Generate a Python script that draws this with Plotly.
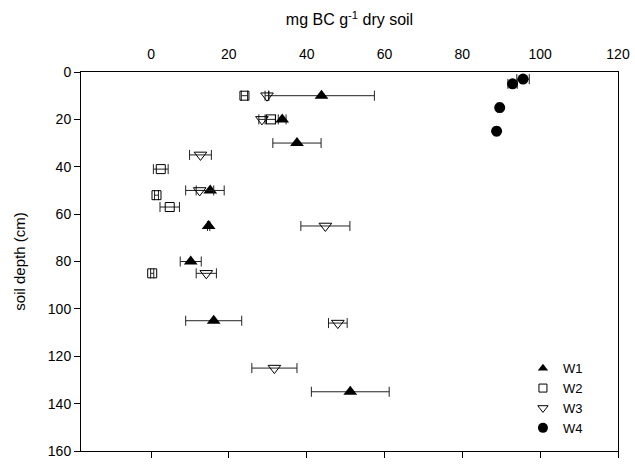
import plotly.graph_objects as go

# W1 (filled triangle up)
w1_x = [43.8, 33.7, 37.5, 15.2, 14.8, 10.2, 16.1, 51.2]
w1_y = [10, 20, 30, 50, 65, 80, 105, 135]
w1_e = [13.6, 1.0, 6.2, 3.6, 0.3, 2.7, 7.2, 10.0]
# W2 (open square)
w2_x = [24.0, 30.8, 2.5, 1.4, 4.8, 0.3]
w2_y = [10, 20, 41, 52, 57, 85]
w2_e = [0.8, 1.2, 1.9, 0.5, 2.5, 0.4]
# W3 (open triangle down)
w3_x = [29.8, 28.5, 12.7, 12.5, 44.8, 14.2, 48.0, 31.7]
w3_y = [10, 20, 35, 50, 65, 85, 106, 125]
w3_e = [0.5, 0.8, 2.8, 3.6, 6.3, 2.6, 2.4, 5.8]
# W4 (filled circle)
w4_x = [95.6, 92.9, 89.6, 88.8]
w4_y = [3, 5, 15, 25]
w4_e = [1.6, 1.2, 0.6, 0.6]

x_ticks = [0, 20, 40, 60, 80, 100, 120]
y_ticks = [0, 20, 40, 60, 80, 100, 120, 140, 160]

FONT = "Liberation Sans, Arial, sans-serif"

series = [
    ("W1", w1_x, w1_y, w1_e, dict(symbol="triangle-up", size=12, color="black", line=dict(width=0)), dict(symbol="triangle-up", size=9, color="black")),
    ("W2", w2_x, w2_y, w2_e, dict(symbol="square-open", size=9, color="black", line=dict(width=1, color="black")), dict(symbol="square-open", size=8, color="black", line=dict(width=1))),
    ("W3", w3_x, w3_y, w3_e, dict(symbol="triangle-down-open", size=11, color="black", line=dict(width=1, color="black")), dict(symbol="triangle-down-open", size=9, color="black", line=dict(width=1))),
    ("W4", w4_x, w4_y, w4_e, dict(symbol="circle", size=11, color="black", line=dict(width=0)), dict(symbol="circle", size=10, color="black")),
]

fig = go.Figure()
for name, xs, ys, es, mk, lmk in series:
    fig.add_trace(go.Scatter(
        x=xs, y=ys, mode="markers", name=name, showlegend=False,
        marker=mk,
        error_x=dict(type="data", array=es, visible=True, color="#222222", thickness=1, width=5),
        xaxis="x", yaxis="y",
    ))
for name, xs, ys, es, mk, lmk in series:
    fig.add_trace(go.Scatter(
        x=[None], y=[None], mode="markers", name=name, showlegend=True,
        marker=lmk, xaxis="x", yaxis="y",
    ))
# invisible helper trace for bottom axis
fig.add_trace(go.Scatter(x=[0], y=[0], mode="markers", marker=dict(opacity=0), showlegend=False,
                         hoverinfo="skip", xaxis="x2", yaxis="y"))

fig.update_layout(
    width=635, height=464,
    margin=dict(l=81, r=16, t=72, b=5),
    paper_bgcolor="white", plot_bgcolor="white",
    font=dict(family=FONT, size=14, color="black"),
    xaxis=dict(
        side="top", range=[-18, 120], tickvals=x_ticks, ticks="", showline=True,
        linecolor="black", linewidth=1, showgrid=False, zeroline=False,
        ticklabelstandoff=6, tickfont=dict(size=14),
        title=dict(text="mg BC g<sup>-1</sup> dry soil", font=dict(size=16), standoff=16),
    ),
    xaxis2=dict(
        side="bottom", overlaying="x", matches="x", range=[-18, 120], tickvals=x_ticks,
        ticks="outside", ticklen=6, tickcolor="black", showticklabels=False,
        showline=True, linecolor="black", linewidth=1, showgrid=False, zeroline=False,
    ),
    yaxis=dict(
        range=[160, 0], tickvals=y_ticks, ticks="outside", ticklen=6, tickcolor="black",
        showline=True, linecolor="black", linewidth=1, mirror=True, showgrid=False, zeroline=False,
        tickfont=dict(size=14),
        title=dict(text="soil depth (cm)", font=dict(size=15), standoff=18),
    ),
    legend=dict(
        x=0.823, y=0.258, xanchor="left", yanchor="top", bgcolor="rgba(0,0,0,0)",
        font=dict(size=13), tracegroupgap=0, itemsizing="trace",
    ),
    showlegend=True,
)

fig.write_html("out.html")
